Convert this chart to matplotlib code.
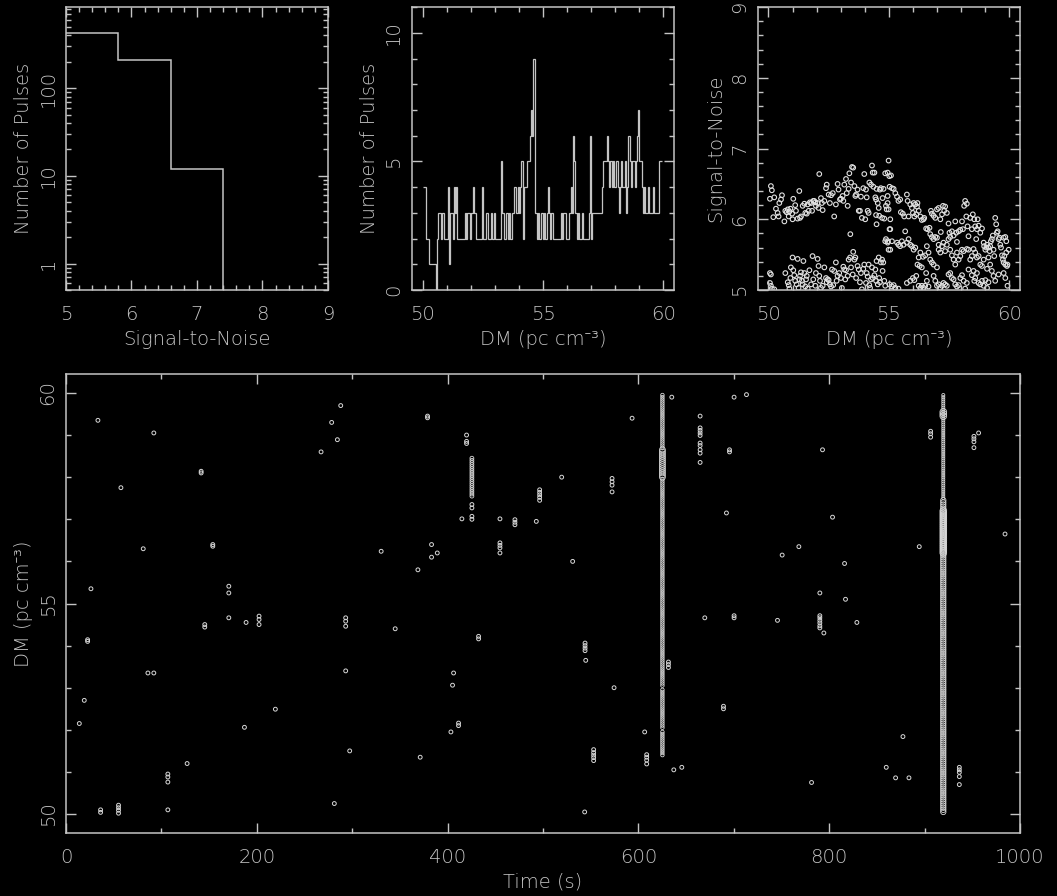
import numpy as np
import matplotlib
matplotlib.use("Agg")
import matplotlib.pyplot as plt
from matplotlib.ticker import MultipleLocator, LogLocator, FuncFormatter, NullFormatter

FG = "#c4c4c4"
plt.rcParams["font.family"] = ["DejaVu Sans", "Noto Sans", "Liberation Sans"]
plt.rcParams["font.weight"] = "light"
plt.rcParams["axes.labelweight"] = "light"
plt.rcParams["font.size"] = 14

# ---- data -----------------------------------------------------------------
# pulses per S/N bin (top left)
sn_edges = [5.0, 5.8, 6.6, 7.4, 8.2, 9.0]
sn_counts = [420, 207, 12, 0, 0]

# pulses per DM bin, 0.05 pc/cc bins starting at DM 50 (top middle)
dm_counts = [
    4, 4, 4, 2, 2, 1, 1, 1, 1, 1, 1, 0, 2, 3, 3, 2, 3, 3, 2, 2,
    2, 4, 1, 3, 3, 2, 4, 3, 4, 2, 2, 2, 2, 2, 2, 3, 2, 3, 3, 2,
    3, 3, 4, 3, 2, 2, 2, 2, 2, 4, 2, 2, 2, 3, 2, 2, 2, 3, 2, 3,
    2, 2, 2, 2, 2, 5, 3, 3, 2, 3, 3, 2, 3, 2, 3, 3, 4, 4, 3, 4,
    3, 4, 5, 2, 4, 4, 4, 5, 5, 6, 7, 6, 9, 3, 3, 2, 3, 2, 3, 3,
    2, 3, 2, 3, 4, 3, 2, 3, 2, 2, 2, 2, 2, 2, 2, 3, 2, 3, 3, 2,
    2, 2, 3, 4, 3, 6, 5, 3, 2, 3, 2, 2, 3, 2, 2, 2, 2, 2, 3, 6,
    2, 3, 3, 3, 3, 3, 3, 3, 3, 4, 5, 5, 5, 6, 5, 4, 5, 4, 5, 4,
    4, 5, 4, 3, 4, 5, 4, 4, 5, 3, 4, 6, 5, 4, 5, 5, 4, 5, 6, 7,
    5, 5, 4, 3, 4, 3, 3, 4, 3, 3, 3, 4, 3, 3, 3, 3, 5, 5, 5,
]

# single pulse candidates: DM and S/N (top right)
cand_dm = [
    50.10, 50.14, 50.06, 50.24, 50.20, 50.31, 50.38, 50.42, 50.45, 50.52,
    50.56, 50.66, 50.70, 50.75, 50.80, 50.84, 50.87, 50.91, 50.98, 51.00,
    51.03, 51.11, 51.14, 51.21, 51.28, 51.31, 51.35, 51.42, 51.49, 51.53,
    51.59, 51.63, 51.67, 51.72, 51.77, 51.81, 51.86, 51.90, 51.95, 51.97,
    52.04, 52.11, 52.08, 52.18, 52.22, 52.25, 52.32, 52.39, 52.42, 52.50,
    52.55, 52.60, 52.67, 52.73, 52.80, 52.87, 52.91, 52.97, 53.01, 53.08,
    53.11, 53.15, 53.22, 53.25, 53.29, 53.33, 53.36, 53.43, 53.47, 53.52,
    53.57, 53.61, 53.64, 53.70, 53.75, 53.80, 53.84, 53.88, 53.94, 53.98,
    54.02, 54.05, 54.08, 54.12, 54.16, 54.19, 54.26, 54.30, 54.33, 54.36,
    54.40, 54.44, 54.47, 54.49, 54.54, 54.58, 54.60, 54.63, 54.67, 54.72,
    54.74, 54.78, 54.81, 54.85, 54.88, 54.91, 54.95, 54.99, 55.02, 55.06,
    54.49, 54.47, 53.40,
    50.06, 50.10, 50.06, 50.10, 50.14, 50.24, 50.70, 50.80, 50.84, 50.87,
    50.91, 50.93, 51.00, 51.03, 51.07, 51.11, 51.17, 51.21, 51.25, 51.28,
    51.31, 51.35, 51.39, 51.42, 51.45, 51.49, 51.53, 51.56, 51.59, 51.63,
    51.70, 51.77, 51.83, 51.86, 51.95, 51.97, 52.04, 52.08, 52.11, 52.14,
    52.18, 52.25, 52.32, 52.39, 52.42, 52.46, 52.50, 52.55, 52.60, 52.64,
    52.69, 52.73, 52.80, 52.83, 52.87, 52.94, 53.01, 53.05, 53.11, 53.15,
    53.19, 53.22, 53.29, 53.33, 53.39, 53.43, 53.50, 53.52, 53.57, 53.61,
    53.64, 53.70, 53.75, 53.80, 53.84, 53.88, 53.94, 53.98, 54.05, 54.08,
    54.12, 54.16, 54.19, 54.22, 54.26, 54.30, 54.33, 54.40, 54.44, 54.47,
    54.49, 54.54, 54.58, 54.60, 54.63, 54.67, 54.72, 54.74, 54.77, 54.81,
    54.85, 54.95, 54.99, 54.88, 54.85,
    54.95, 55.09, 55.03, 55.13, 55.20, 55.27, 55.34, 55.40, 55.47, 54.95,
    54.99, 55.06, 55.03, 54.96, 55.06, 55.13, 55.75, 55.78, 55.89, 55.96,
    56.03, 56.10, 56.17, 56.19, 56.24, 56.31, 56.37, 56.44, 55.50, 55.58,
    55.64, 55.82, 56.00, 56.06, 56.14, 55.34, 55.40, 55.47, 55.54, 55.61,
    55.68, 55.75, 55.82, 55.89, 55.96, 56.03, 56.10,
    56.47, 56.55, 56.61, 56.69, 56.75, 56.79, 56.86, 56.93, 57.00, 57.07,
    57.14, 57.16, 57.21, 57.25, 57.30, 57.34, 57.41, 57.48, 57.52, 57.55,
    57.62, 57.69, 57.76, 57.80, 57.83, 57.90, 57.97, 58.04, 58.08, 58.13,
    58.17, 58.24, 58.22, 58.27, 58.31, 58.38, 58.45, 58.49, 58.55, 58.59,
    58.63, 58.66, 58.69, 58.73, 58.80, 58.87, 58.94, 58.96, 59.01, 59.05,
    59.08, 59.14, 59.19, 59.21, 59.24, 59.28, 59.32, 59.35, 59.38, 59.42,
    59.46, 59.49, 59.52, 59.56, 59.60, 59.63, 59.66, 59.70, 59.74, 59.77,
    59.80, 59.84, 59.88, 59.91, 59.93, 59.98, 59.77, 59.84, 59.88, 56.72,
    56.79, 56.86, 56.93, 57.00, 57.07, 56.58, 56.65, 56.51, 56.42, 56.31,
    56.24, 56.19, 56.28, 56.37, 56.55, 56.72, 56.79, 56.86, 57.00, 57.07,
    57.14, 57.21, 57.27, 57.34, 57.41, 57.48, 57.55, 57.62, 57.69, 57.76,
    57.83, 57.90, 57.97, 58.04, 58.11, 58.24, 58.31, 58.38, 58.45, 58.52,
    58.59, 58.66, 58.73, 58.80, 58.87, 58.94, 59.08, 59.14, 59.21, 59.28,
    55.03, 55.13, 55.20, 55.27, 55.40, 55.75, 55.89, 56.00, 56.06, 56.14,
    56.24, 56.31, 56.37, 56.44, 56.51, 56.58, 56.65, 56.86, 56.93, 57.00,
    57.07, 57.14, 57.21, 57.27, 57.34, 57.41, 57.48, 57.55, 57.62, 57.69,
    57.76, 57.83, 57.90, 57.97, 58.04, 58.11, 58.17, 58.24, 58.31, 58.45,
    58.52, 58.55, 58.59, 58.66, 58.73, 58.80, 58.87, 58.94, 59.01, 59.08,
    59.14, 59.35, 59.42, 59.56, 59.77, 59.84, 59.93,
]
cand_sn = [
    6.47, 6.41, 6.29, 6.31, 6.03, 6.15, 6.09, 6.04, 6.23, 6.28,
    6.34, 5.97, 6.12, 6.10, 6.14, 6.04, 6.11, 6.15, 6.08, 6.00,
    6.29, 6.20, 6.12, 6.01, 6.40, 6.02, 6.04, 6.19, 6.22, 6.09,
    6.08, 6.21, 6.12, 6.24, 6.23, 6.12, 6.26, 6.26, 6.24, 6.19,
    6.23, 6.64, 6.16, 6.30, 6.23, 6.13, 6.26, 6.44, 6.49, 6.35,
    6.23, 6.34, 6.37, 6.04, 6.21, 6.50, 6.42, 6.28, 6.29, 6.33,
    6.26, 6.49, 6.57, 6.37, 6.19, 6.43, 6.65, 6.52, 6.74, 6.73,
    6.47, 6.33, 6.35, 6.42, 6.12, 6.12, 6.32, 6.02, 6.44, 6.64,
    6.00, 6.42, 6.31, 6.12, 6.09, 6.52, 6.49, 6.76, 6.66, 6.46,
    6.66, 6.31, 6.28, 6.43, 6.23, 6.16, 6.05, 6.42, 6.44, 6.02,
    6.30, 6.43, 6.01, 6.65, 6.19, 6.14, 6.33, 6.83, 6.61, 5.86,
    5.93, 6.06, 5.79,
    5.24, 5.22, 5.10, 5.06, 5.02, 5.01, 5.24, 5.11, 5.07, 5.02,
    5.17, 5.32, 5.46, 5.28, 5.21, 5.13, 5.08, 5.44, 5.03, 5.15,
    5.20, 5.25, 5.13, 5.08, 5.41, 5.24, 5.05, 5.15, 5.20, 5.02,
    5.28, 5.08, 5.48, 5.15, 5.06, 5.24, 5.44, 5.34, 5.20, 5.13,
    5.03, 5.06, 5.32, 5.17, 5.11, 5.15, 5.14, 5.08, 5.05, 5.29,
    5.07, 5.27, 5.39, 5.13, 5.20, 5.24, 5.17, 5.03, 5.33, 5.29,
    5.15, 5.28, 5.20, 5.43, 5.46, 5.32, 5.22, 5.54, 5.43, 5.46,
    5.17, 5.34, 5.29, 5.11, 5.24, 5.01, 5.30, 5.36, 5.10, 5.24,
    5.19, 5.36, 5.07, 5.03, 5.15, 5.32, 5.17, 5.21, 5.29, 5.13,
    5.41, 5.08, 5.46, 5.17, 5.11, 5.39, 5.43, 5.27, 5.39, 5.13,
    5.06, 5.67, 5.57, 5.72, 5.69,
    6.66, 6.62, 6.46, 6.44, 6.43, 6.37, 6.32, 6.26, 6.28, 6.23,
    6.14, 6.00, 5.86, 5.69, 5.57, 5.69, 6.35, 6.26, 6.21, 6.16,
    6.23, 6.21, 6.18, 6.23, 6.12, 6.04, 5.99, 6.00, 6.10, 6.08,
    6.04, 6.04, 6.09, 6.04, 6.07, 5.67, 5.64, 5.62, 5.69, 5.64,
    5.83, 5.67, 5.72, 5.64, 5.62, 5.57, 5.60,
    6.02, 5.87, 5.86, 5.88, 6.12, 6.08, 6.05, 6.02, 6.14, 6.16,
    6.00, 5.82, 6.07, 6.19, 6.12, 6.18, 6.09, 5.94, 5.81, 5.75,
    5.83, 5.77, 5.97, 5.81, 5.68, 5.83, 5.85, 5.97, 5.86, 6.19,
    6.26, 6.22, 6.04, 5.90, 5.76, 6.02, 5.86, 6.07, 6.00, 5.90,
    5.72, 5.86, 6.00, 5.91, 5.81, 5.87, 5.67, 5.62, 5.57, 5.60,
    5.64, 5.60, 5.55, 5.62, 5.69, 5.72, 5.77, 5.57, 5.48, 6.02,
    5.93, 5.81, 5.83, 5.72, 5.74, 5.64, 5.60, 5.49, 5.43, 5.39,
    5.48, 5.36, 5.53, 5.34, 5.36, 5.57, 5.74, 5.75, 5.69, 5.79,
    5.75, 5.72, 5.75, 5.74, 5.64, 5.62, 5.53, 5.49, 5.47, 5.53,
    5.46, 5.36, 5.34, 5.32, 5.24, 5.43, 5.39, 5.36, 5.32, 5.57,
    5.53, 5.62, 5.67, 5.55, 5.64, 5.72, 5.57, 5.49, 5.43, 5.36,
    5.53, 5.43, 5.48, 5.57, 5.55, 5.58, 5.57, 5.43, 5.48, 5.58,
    5.53, 5.46, 5.48, 5.36, 5.34, 5.43, 5.30, 5.46, 5.36, 5.27,
    5.08, 5.05, 5.07, 5.03, 5.02, 5.10, 5.13, 5.17, 5.14, 5.20,
    5.06, 5.03, 5.06, 5.03, 5.06, 5.13, 5.05, 5.20, 5.13, 5.06,
    5.08, 5.03, 5.06, 5.10, 5.08, 5.06, 5.22, 5.24, 5.17, 5.15,
    5.08, 5.05, 5.07, 5.17, 5.21, 5.13, 5.02, 5.10, 5.29, 5.21,
    5.27, 5.13, 5.17, 5.24, 5.10, 5.08, 5.13, 5.06, 5.14, 5.03,
    5.11, 5.20, 5.13, 5.22, 5.24, 5.17, 5.06,
]

# isolated pulses: time (s) and DM (bottom)
pulse_t = [
    33.5, 92.1, 57.6, 141.7, 141.7, 81.0, 153.9, 153.9, 26.2, 170.7,
    170.7, 22.7, 22.7, 145.5, 145.5, 170.7, 188.8, 202.4, 202.4, 202.4,
    85.9, 92.1, 19.2, 14.0, 219.5, 187.1, 127.0, 106.8, 106.8, 106.8,
    106.8, 36.3, 36.3, 55.1, 55.1, 55.1, 55.1, 267.4, 278.5, 284.5,
    288.0, 293.2, 293.2, 293.2, 293.2, 297.4, 281.3,
    330.4, 345.1, 368.9, 371.3, 379.0, 379.0, 383.2, 383.2, 389.2, 405.2,
    406.3, 403.5, 411.5, 411.5, 415.0, 419.9, 419.9, 419.9, 425.5, 425.5,
    425.5, 425.5, 432.5, 432.5, 454.9, 454.9, 454.9, 454.9, 454.9, 470.6,
    470.6, 470.6, 493.0, 496.5, 496.5, 496.5, 496.5, 496.5, 519.6, 531.1,
    543.7, 544.1, 544.1, 544.1, 544.1, 544.8, 553.1, 553.1, 553.1, 553.1,
    553.1, 572.4, 572.4, 572.4, 572.4, 574.5, 593.4, 606.6, 608.7, 608.7,
    608.7, 608.7, 631.5, 631.5, 631.5, 635.0, 637.1, 645.5,
    664.7, 664.7, 664.7, 664.7, 664.7, 664.7, 664.7, 664.7, 664.7, 664.7,
    669.6, 689.2, 689.2, 692.3, 695.5, 695.5, 700.3, 700.3, 700.3, 713.3,
    745.8, 750.7, 768.2, 781.5, 790.2, 790.2, 790.2, 790.2, 790.2, 790.2,
    790.2, 794.4, 793.0, 803.5, 816.1, 817.1, 829.0, 859.8, 869.6, 877.3,
    883.6, 894.4, 906.3, 906.3, 906.3, 936.4, 936.4, 936.4, 936.4, 936.4,
    951.7, 951.7, 951.7, 951.7, 956.6, 984.3,
]
pulse_dm = [
    59.35, 59.05, 57.75, 58.14, 58.10, 56.30, 56.40, 56.36, 55.35, 55.41,
    55.25, 54.14, 54.10, 54.50, 54.44, 54.66, 54.55, 54.70, 54.62, 54.50,
    53.35, 53.35, 52.70, 52.15, 52.49, 52.06, 51.20, 50.95, 50.88, 50.76,
    50.10, 50.10, 50.04, 50.21, 50.15, 50.09, 50.02, 58.60, 59.30, 58.89,
    59.70, 54.66, 54.58, 54.46, 53.40, 51.50, 50.25,
    56.24, 54.40, 55.80, 51.35, 59.45, 59.41, 56.40, 56.10, 56.20, 53.06,
    53.35, 51.95, 52.16, 52.10, 57.01, 59.00, 58.85, 58.80, 57.35, 57.27,
    57.07, 57.00, 54.22, 54.16, 57.01, 56.44, 56.38, 56.32, 56.20, 56.99,
    56.93, 56.87, 56.95, 57.70, 57.64, 57.58, 57.52, 57.45, 58.00, 56.00,
    50.05, 54.06, 54.00, 53.94, 53.88, 53.65, 51.53, 51.46, 51.40, 51.34,
    51.27, 57.97, 57.89, 57.81, 57.65, 53.00, 59.40, 51.95, 51.41, 51.35,
    51.28, 51.19, 53.61, 53.55, 53.48, 59.90, 51.05, 51.11,
    59.45, 59.17, 59.11, 59.05, 58.99, 58.81, 58.75, 58.65, 58.57, 58.35,
    54.66, 52.56, 52.50, 57.15, 58.65, 58.60, 59.90, 54.71, 54.66, 59.96,
    54.60, 56.15, 56.35, 50.75, 55.25, 54.71, 54.66, 54.60, 54.54, 54.47,
    54.42, 54.30, 58.65, 57.05, 55.95, 55.10, 54.55, 51.11, 50.86, 51.84,
    50.86, 56.35, 59.09, 59.03, 58.95, 51.11, 51.05, 50.99, 50.89, 50.70,
    58.97, 58.91, 58.84, 58.70, 59.05, 56.65,
]

# bursts seen over a run of consecutive DM trials, with a typical S/N
burst_t = [425.5, 625.2, 625.2, 625.2, 625.2, 625.2, 919.6, 919.6, 919.6, 919.6]
burst_dm_lo = [57.55, 51.40, 52.05, 53.05, 58.00, 58.70, 57.50, 50.05, 56.20, 59.45]
burst_dm_hi = [58.45, 51.95, 52.95, 57.95, 58.65, 59.95, 59.95, 57.45, 57.20, 59.55]
burst_sn = [5.1, 5.0, 5.0, 5.0, 5.8, 5.0, 4.9, 5.6, 6.2, 6.2]
pulse_sn = 5.1

dm_trials = np.round(50.0 + 0.05 * np.arange(201), 2)
dm_edges = dm_trials[:len(dm_counts) + 1]


def sym_size(sn):
    # symbol area grows with S/N
    return 14.0 * (sn - 4.55)


# ---- figure -----------------------------------------------------------------
fig = plt.figure(figsize=(10.57, 8.96), dpi=100, facecolor="black")


def style(ax):
    ax.set_facecolor("black")
    for s in ax.spines.values():
        s.set_color(FG)
        s.set_linewidth(1.1)
    ax.tick_params(which="both", direction="in", top=True, right=True,
                   colors=FG, labelcolor=FG, width=1.0)
    ax.tick_params(which="major", length=7, pad=11, labelsize=14)
    ax.tick_params(which="minor", length=3.5)
    ax.tick_params(axis="y", which="major", pad=6)
    for lab in ax.get_yticklabels():
        lab.set_rotation(90)
        lab.set_va("center")


DM_LIM = (49.55, 60.45)
DM_LABEL = "DM (pc cm\u207b\u00b3)"

# S/N histogram
ax1 = fig.add_axes([0.0624, 0.6763, 0.2479, 0.3158])
ax1.stairs(np.where(np.array(sn_counts) > 0, sn_counts, 1e-3), sn_edges,
           baseline=None, color=FG, lw=1.1)
ax1.set_yscale("log")
ax1.set_xlim(5, 9)
ax1.set_ylim(0.5, 2 * sn_counts[0])
ax1.xaxis.set_major_locator(MultipleLocator(1))
ax1.xaxis.set_minor_locator(MultipleLocator(0.2))
ax1.yaxis.set_major_locator(LogLocator(base=10))
ax1.yaxis.set_minor_locator(LogLocator(base=10, subs=range(2, 10)))
ax1.yaxis.set_major_formatter(FuncFormatter(lambda v, p: "%d" % v))
ax1.yaxis.set_minor_formatter(NullFormatter())
ax1.set_xlabel("Signal-to-Noise", color=FG)
ax1.set_ylabel("Number of Pulses", color=FG)
style(ax1)

# DM histogram
ax2 = fig.add_axes([0.3895, 0.6763, 0.2484, 0.3158])
ax2.stairs(dm_counts, dm_edges, baseline=None, color=FG, lw=0.9)
ax2.set_xlim(*DM_LIM)
ax2.set_ylim(0, 11)
ax2.xaxis.set_major_locator(MultipleLocator(5))
ax2.xaxis.set_minor_locator(MultipleLocator(1))
ax2.yaxis.set_major_locator(MultipleLocator(5))
ax2.yaxis.set_minor_locator(MultipleLocator(1))
ax2.set_xlabel(DM_LABEL, color=FG)
ax2.set_ylabel("Number of Pulses", color=FG)
style(ax2)

# S/N vs DM
ax3 = fig.add_axes([0.7168, 0.6763, 0.2482, 0.3158])
ax3.scatter(cand_dm, cand_sn, s=11, facecolors="none", edgecolors="#e0e0e0",
            linewidths=0.8)
ax3.set_xlim(*DM_LIM)
ax3.set_ylim(5, 9)
ax3.xaxis.set_major_locator(MultipleLocator(5))
ax3.xaxis.set_minor_locator(MultipleLocator(1))
ax3.yaxis.set_major_locator(MultipleLocator(1))
ax3.yaxis.set_minor_locator(MultipleLocator(0.2))
ax3.set_xlabel(DM_LABEL, color=FG)
ax3.set_ylabel("Signal-to-Noise", color=FG)
style(ax3)

# DM vs time
ax4 = fig.add_axes([0.0624, 0.0703, 0.9026, 0.5123])
ax4.scatter(pulse_t, pulse_dm, s=sym_size(pulse_sn), facecolors="none",
            edgecolors="#d8d8d8", linewidths=0.7)
for t, lo, hi, sn in zip(burst_t, burst_dm_lo, burst_dm_hi, burst_sn):
    d = dm_trials[(dm_trials >= lo - 1e-6) & (dm_trials <= hi + 1e-6)]
    ax4.scatter(np.full(len(d), t), d, s=sym_size(sn), facecolors="none",
                edgecolors="#d8d8d8", linewidths=0.6)
ax4.set_xlim(0, 1000)
ax4.set_ylim(*DM_LIM)
ax4.xaxis.set_major_locator(MultipleLocator(200))
ax4.xaxis.set_minor_locator(MultipleLocator(100))
ax4.yaxis.set_major_locator(MultipleLocator(5))
ax4.yaxis.set_minor_locator(MultipleLocator(1))
ax4.set_xlabel("Time (s)", color=FG)
ax4.set_ylabel(DM_LABEL, color=FG)
style(ax4)

fig.savefig("out.png", dpi=100, facecolor="black")
